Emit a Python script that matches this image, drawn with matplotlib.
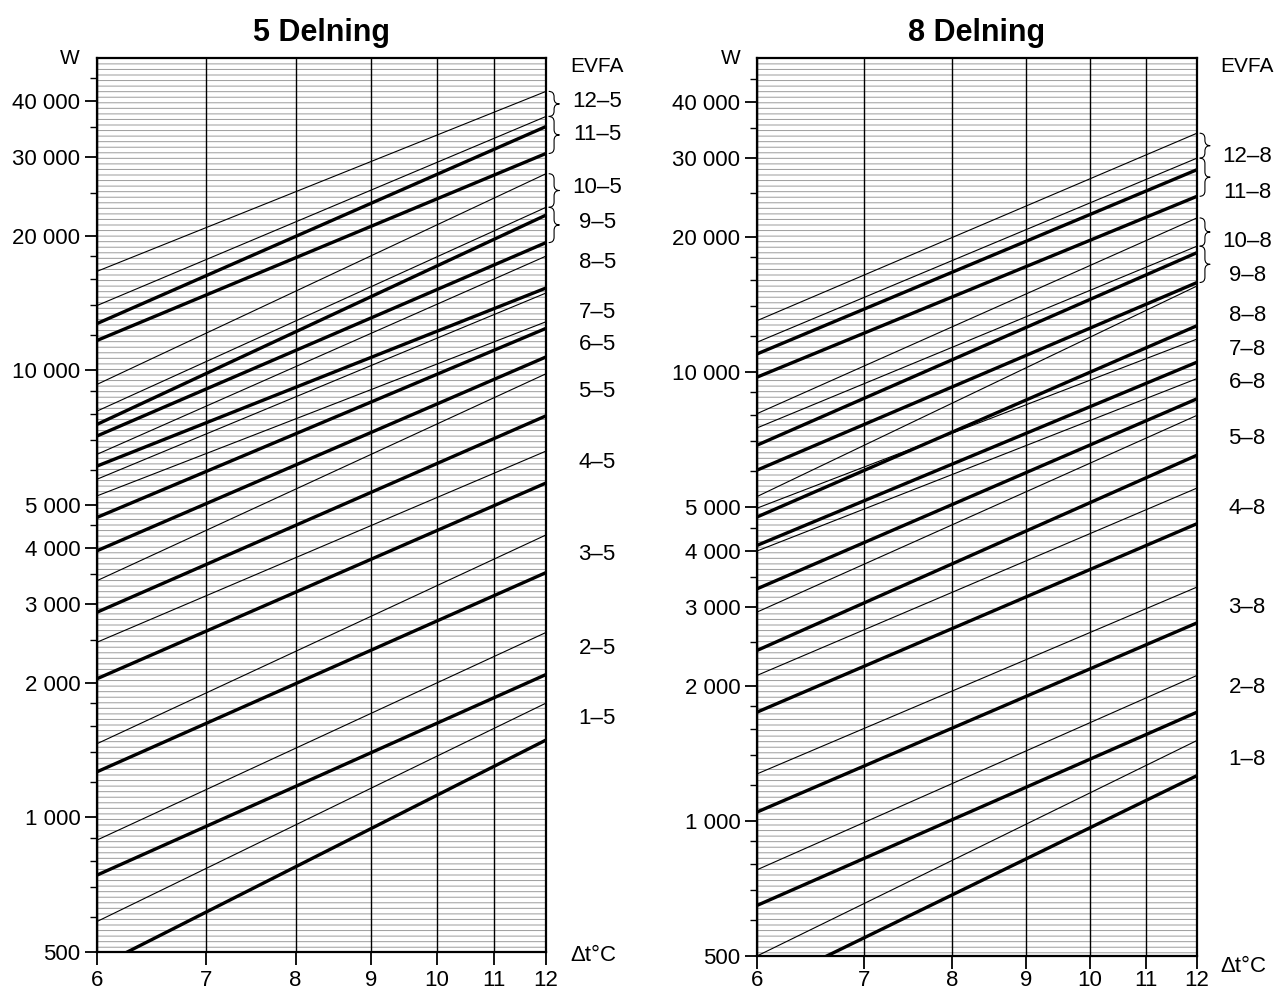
import numpy as np
import matplotlib
matplotlib.use("Agg")
import matplotlib.pyplot as plt
from matplotlib.path import Path
from matplotlib.patches import PathPatch, Rectangle

plt.rcParams['font.family'] = ['Liberation Sans', 'DejaVu Sans']
plt.rcParams['hatch.linewidth'] = 0.7

# effekt (W) vid dt = 6 och dt = 12, linjer sorterade nerifran och upp
w6_5 = [462, 585, 743, 890, 1265, 1462, 2043, 2466, 2878, 3386, 3950, 4690,
        5240, 5710, 6110, 6491, 7134, 7574, 8110, 9306, 11670, 12730, 13970, 16660]
w12_5 = [1490, 1802, 2088, 2593, 3530, 4285, 5600, 6600, 7915, 9830, 10720, 12420,
         12850, 14900, 15290, 18020, 19320, 22260, 23170, 27550, 30580, 35130, 37000, 42100]
tjock_5 = [1, 0, 1, 0, 1, 0, 1, 0, 1, 0, 1, 1, 0, 0, 1, 0, 1, 1, 0, 0, 1, 1, 0, 0]

w6_8 = [420, 500, 648, 778, 1046, 1272, 1746, 2108, 2396, 2917, 3286, 3990, 4106,
        4750, 4970, 5275, 6040, 6865, 7500, 8070, 9730, 10960, 11640, 13000]
w12_8 = [1261, 1510, 1746, 2108, 2760, 3316, 4590, 5510, 6522, 8000, 8710, 9660, 10510,
         12670, 11830, 15530, 15810, 18430, 19050, 22020, 24600, 28200, 29920, 34000]
tjock_8 = [1, 0, 1, 0, 1, 0, 1, 0, 1, 0, 1, 0, 1, 1, 0, 0, 1, 1, 0, 0, 1, 1, 0, 0]

# EVFA-etiketter och var de sitter (W)
typer_5 = ['12–5', '11–5', '10–5', '9–5', '8–5', '7–5', '6–5', '5–5', '4–5', '3–5', '2–5', '1–5']
typ_w_5 = [40050, 33800, 25620, 21400, 17400, 13480, 11430, 8980, 6230, 3865, 2385, 1663]
typer_8 = ['12–8', '11–8', '10–8', '9–8', '8–8', '7–8', '6–8', '5–8', '4–8', '3–8', '2–8', '1–8']
typ_w_8 = [30130, 25040, 19520, 16410, 13380, 11190, 9455, 7100, 4970, 2982, 1982, 1372]

# klammer-intervall (W) vid hogerkanten
klammer_5 = [(37000, 42100), (30580, 37000), (23170, 27550), (19320, 23170)]
klammer_8 = [(29920, 34000), (24600, 29920), (19050, 22020), (15810, 19050)]

x_ticks = [6, 7, 8, 9, 10, 11, 12]
y_major = [500, 1000, 2000, 3000, 4000, 5000, 10000, 20000, 30000, 40000]
y_minor = [600, 700, 800, 900, 1200, 1400, 1600, 1800, 2500, 3500, 4500, 6000, 7000,
           8000, 9000, 12000, 14000, 16000, 18000, 25000, 35000, 45000]
YMIN, YMAX = 500, 50000


def yfrac(v):
    return (np.log10(v) - np.log10(YMIN)) / (np.log10(YMAX) - np.log10(YMIN))


def klammer(ax, lo, hi, x0=1.006, w=0.024, d=0.006):
    yb, yt = yfrac(lo), yfrac(hi)
    ym = (yb + yt) / 2
    xm = x0 + w / 2
    verts = [(x0, yt), (xm, yt), (xm, yt - d), (xm, ym + d), (xm, ym), (x0 + w, ym),
             (x0 + w, ym), (xm, ym), (xm, ym - d), (xm, yb + d), (xm, yb), (x0, yb)]
    codes = [Path.MOVETO, Path.CURVE3, Path.CURVE3, Path.LINETO, Path.CURVE3, Path.CURVE3,
             Path.MOVETO, Path.CURVE3, Path.CURVE3, Path.LINETO, Path.CURVE3, Path.CURVE3]
    ax.add_patch(PathPatch(Path(verts, codes), fill=False, lw=0.8, color='black',
                           transform=ax.transAxes, clip_on=False))


fig = plt.figure(figsize=(12.83, 9.92), dpi=100)
ax1 = fig.add_axes([97 / 1283, 40 / 992, 449 / 1283, 894 / 992])
ax2 = fig.add_axes([757 / 1283, 36 / 992, 440 / 1283, 898 / 992])

paneler = [
    (ax1, '5 Delning', w6_5, w12_5, tjock_5, typer_5, typ_w_5, klammer_5, -0.004, 4),
    (ax2, '8 Delning', w6_8, w12_8, tjock_8, typer_8, typ_w_8, klammer_8, -0.012, 1),
]

for ax, titel, w6, w12, tjock, typer, typ_w, klam, dt_y, xpad in paneler:
    ax.set_xscale('function', functions=(lambda x: np.log10(x - 2), lambda y: 10 ** y + 2))
    ax.set_yscale('log')
    ax.set_xlim(6, 12)
    ax.set_ylim(YMIN, YMAX)

    # rastrerad bakgrund
    ax.add_patch(Rectangle((0, 0), 1, 1, transform=ax.transAxes, fill=False,
                           hatch='---', edgecolor='#9c9c9c', lw=0, zorder=0))

    for a, b, t in zip(w6, w12, tjock):
        ax.plot([6, 12], [a, b], color='black', lw=2.4 if t else 0.8,
                solid_capstyle='butt', zorder=3)

    ax.set_xticks(x_ticks)
    ax.set_xticklabels([str(v) for v in x_ticks])
    ax.xaxis.set_minor_locator(matplotlib.ticker.NullLocator())
    ax.set_yticks(y_major)
    ax.set_yticklabels([f'{v:,}'.replace(',', ' ') for v in y_major])
    ax.set_yticks(y_minor, minor=True)
    ax.yaxis.set_minor_formatter(matplotlib.ticker.NullFormatter())
    ax.tick_params(axis='both', which='major', length=9, width=1.3, labelsize=16,
                   pad=3, direction='out')
    ax.tick_params(axis='y', which='minor', length=5, width=1.0)
    ax.tick_params(axis='x', pad=xpad)
    ax.grid(axis='x', which='major', color='black', lw=1.0, zorder=2)
    for s in ax.spines.values():
        s.set_linewidth(1.6)

    ax.set_title(titel, fontsize=22, fontweight='bold', pad=12)
    ax.text(-0.06, 1.0, 'W', transform=ax.transAxes, fontsize=15, ha='center', va='center')
    ax.text(1.114, 0.99, 'EVFA', transform=ax.transAxes, fontsize=15, ha='center', va='center')
    for namn, v in zip(typer, typ_w):
        ax.text(1.114, yfrac(v), namn, transform=ax.transAxes, fontsize=16,
                ha='center', va='center')
    ax.text(1.105, dt_y, 'Δt°C', transform=ax.transAxes, fontsize=16,
            ha='center', va='center')
    for lo, hi in klam:
        klammer(ax, lo, hi)

plt.savefig('out.png', dpi=100)
